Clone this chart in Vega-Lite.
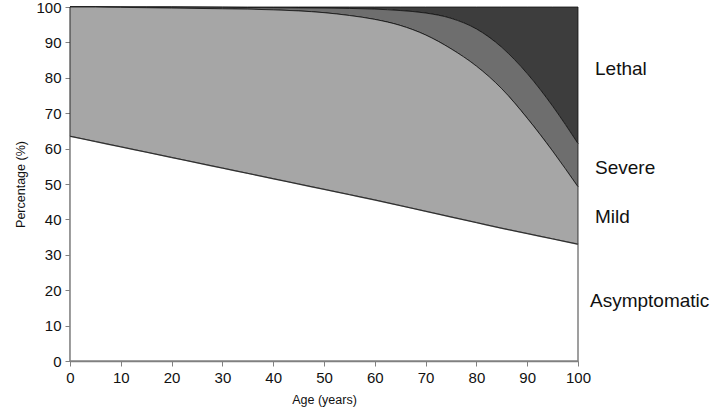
{
  "$schema": "https://vega.github.io/schema/vega-lite/v6.json",
  "width": 508,
  "height": 354,
  "autosize": {"type": "none"},
  "padding": {"left": 70, "top": 7, "right": 136, "bottom": 56},
  "background": "white",
  "config": {
    "view": {"stroke": null},
    "font": "Liberation Sans",
    "axis": {"labelOverlap": false, "titleFontSize": 12.5, "titleFontWeight": "normal", "titleColor": "#111", "titlePadding": 8,
      "labelFontSize": 15, "labelColor": "#111", "labelPadding": 4, "tickSize": 5, "domainColor": "#808080", "tickColor": "#808080", "grid": false, "labelFlush": false, "domainWidth": 1.5}
  },
  "datasets": {
    "bounds": [
      {"age": 0, "A": 63.5, "M": 100, "S": 100, "L": 100, "Z": 0},
      {"age": 5, "A": 62.0, "M": 100, "S": 100, "L": 100, "Z": 0},
      {"age": 10, "A": 60.5, "M": 99.9, "S": 100, "L": 100, "Z": 0},
      {"age": 15, "A": 59.0, "M": 99.8, "S": 100, "L": 100, "Z": 0},
      {"age": 20, "A": 57.5, "M": 99.7, "S": 100, "L": 100, "Z": 0},
      {"age": 25, "A": 56.0, "M": 99.6, "S": 99.95, "L": 100, "Z": 0},
      {"age": 30, "A": 54.5, "M": 99.5, "S": 99.9, "L": 100, "Z": 0},
      {"age": 35, "A": 53.0, "M": 99.4, "S": 99.85, "L": 100, "Z": 0},
      {"age": 40, "A": 51.5, "M": 99.2, "S": 99.8, "L": 100, "Z": 0},
      {"age": 45, "A": 50.0, "M": 98.9, "S": 99.75, "L": 100, "Z": 0},
      {"age": 50, "A": 48.5, "M": 98.4, "S": 99.7, "L": 100, "Z": 0},
      {"age": 55, "A": 47.0, "M": 97.6, "S": 99.6, "L": 100, "Z": 0},
      {"age": 60, "A": 45.5, "M": 96.5, "S": 99.4, "L": 100, "Z": 0},
      {"age": 65, "A": 43.9, "M": 94.8, "S": 99.0, "L": 100, "Z": 0},
      {"age": 70, "A": 42.3, "M": 92.1, "S": 98.3, "L": 100, "Z": 0},
      {"age": 75, "A": 40.7, "M": 88.2, "S": 96.8, "L": 100, "Z": 0},
      {"age": 80, "A": 39.1, "M": 83.3, "S": 93.8, "L": 100, "Z": 0},
      {"age": 85, "A": 37.5, "M": 76.9, "S": 88.6, "L": 100, "Z": 0},
      {"age": 90, "A": 36.0, "M": 68.6, "S": 81.2, "L": 100, "Z": 0},
      {"age": 95, "A": 34.5, "M": 59.3, "S": 72.0, "L": 100, "Z": 0},
      {"age": 100, "A": 33.0, "M": 49.2, "S": 61.4, "L": 100, "Z": 0}
    ],
    "labels": [
      {"age": 100, "value": 82.5, "label": "Lethal"},
      {"age": 100, "value": 54.4, "label": "Severe"},
      {"age": 100, "value": 40.6, "label": "Mild"}
    ],
    "labels2": [
      {"age": 100, "value": 16.9, "label": "Asymptomatic"}
    ]
  },
  "encoding": {
    "x": {"field": "age", "type": "quantitative", "scale": {"domain": [0, 100], "nice": false},
      "axis": {"values": [0,10,20,30,40,50,60,70,80,90,100], "title": "Age (years)"}}
  },
  "layer": [
    {
      "data": {"name": "bounds"},
      "mark": {"type": "area", "fill": "#3d3d3d", "stroke": "#111111", "strokeWidth": 0.8, "interpolate": "monotone"},
      "encoding": {
        "y": {"field": "S", "type": "quantitative", "scale": {"domain": [0, 100], "nice": false},
          "axis": {"values": [0,10,20,30,40,50,60,70,80,90,100], "title": "Percentage (%)"}},
        "y2": {"field": "L"}
      }
    },
    {
      "data": {"name": "bounds"},
      "mark": {"type": "area", "fill": "#6e6e6e", "stroke": "#111111", "strokeWidth": 0.8, "interpolate": "monotone"},
      "encoding": {
        "y": {"field": "M", "type": "quantitative", "axis": {"values": [0,10,20,30,40,50,60,70,80,90,100], "title": "Percentage (%)"}},
        "y2": {"field": "S"}
      }
    },
    {
      "data": {"name": "bounds"},
      "mark": {"type": "area", "fill": "#a6a6a6", "stroke": "#111111", "strokeWidth": 0.8, "interpolate": "monotone"},
      "encoding": {
        "y": {"field": "A", "type": "quantitative", "axis": {"values": [0,10,20,30,40,50,60,70,80,90,100], "title": "Percentage (%)"}},
        "y2": {"field": "M"}
      }
    },
    {
      "data": {"name": "bounds"},
      "mark": {"type": "area", "fill": "white", "stroke": "#808080", "strokeWidth": 1.5, "interpolate": "monotone"},
      "encoding": {
        "y": {"field": "A", "type": "quantitative", "axis": {"values": [0,10,20,30,40,50,60,70,80,90,100], "title": "Percentage (%)"}},
        "y2": {"field": "Z"}
      }
    },
    {
      "data": {"name": "bounds"},
      "mark": {"type": "line", "stroke": "#111111", "strokeWidth": 0.8, "interpolate": "monotone"},
      "encoding": {
        "y": {"field": "A", "type": "quantitative", "axis": {"values": [0,10,20,30,40,50,60,70,80,90,100], "title": "Percentage (%)"}}
      }
    },
    {
      "data": {"name": "labels"},
      "mark": {"type": "text", "align": "left", "baseline": "middle", "fontSize": 19, "color": "#111", "dx": 17},
      "encoding": {
        "y": {"field": "value", "type": "quantitative", "axis": {"values": [0,10,20,30,40,50,60,70,80,90,100], "title": "Percentage (%)"}},
        "text": {"field": "label"}
      }
    },
    {
      "data": {"name": "labels2"},
      "mark": {"type": "text", "align": "left", "baseline": "middle", "fontSize": 19, "color": "#111", "dx": 12},
      "encoding": {
        "y": {"field": "value", "type": "quantitative", "axis": {"values": [0,10,20,30,40,50,60,70,80,90,100], "title": "Percentage (%)"}},
        "text": {"field": "label"}
      }
    }
  ]
}
